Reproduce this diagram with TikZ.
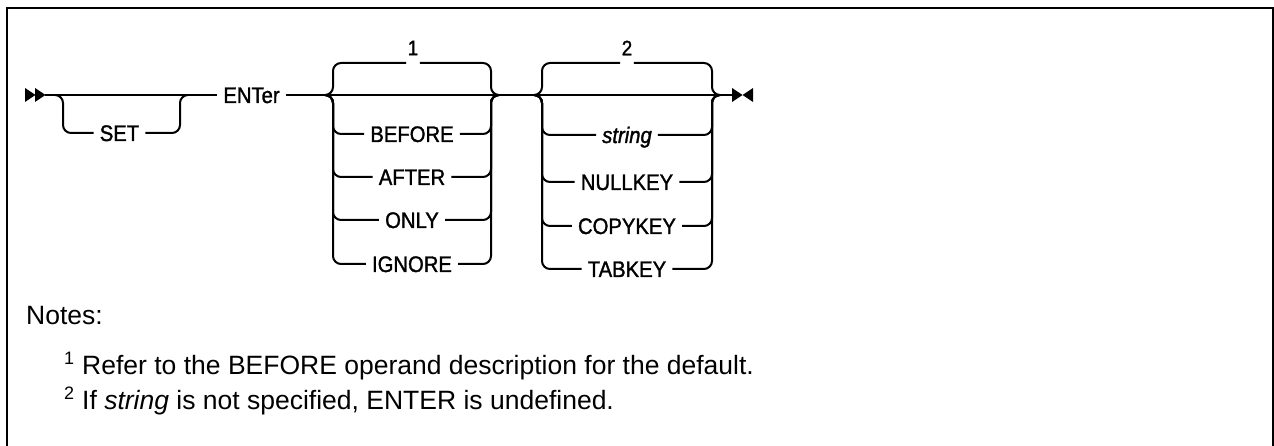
\documentclass[tikz,border=0pt]{standalone}
\usepackage{fontspec}
\setmainfont{Liberation Sans}
\newfontfamily\labfont[FakeStretch=0.9,FakeBold=1.4]{Liberation Sans}
\tikzset{
  rail/.style={line width=2pt, rounded corners=8pt},
  lab/.style={font=\labfont\fontsize{22.5}{26}\selectfont, inner xsep=6pt, inner ysep=0pt, text height=16pt, text depth=0pt},
  num/.style={font=\labfont\fontsize{21}{24}\selectfont, inner sep=1.5pt},
  notetext/.style={font=\fontsize{26.5}{30}\selectfont, inner sep=0pt, anchor=base west},
  suptext/.style={font=\fontsize{18}{20}\selectfont, inner sep=0pt, anchor=base west},
  frame/.style={line width=2.5pt}
}
\begin{document}
\begin{tikzpicture}[x=1pt,y=-1pt]
\useasboundingbox (0,0) rectangle (1274,446);
% frame
\draw[frame] (7,446) -- (7,8) -- (1273,8) -- (1273,446);

% start arrow
\fill (25,88) -- (35.5,95) -- (25,102) -- cycle;
\fill (35,88) -- (45.5,95) -- (35,102) -- cycle;

\coordinate (top) at (0,63);
\coordinate (start) at (45,95);
\coordinate (sL) at (55,95);
\coordinate (sR) at (188,95);
\coordinate (g1L) at (325,95);
\coordinate (g1R) at (499,95);
\coordinate (g2L) at (534,95);
\coordinate (g2R) at (720,95);
\coordinate (endc) at (732,95);

% SET / ENTer
\node[lab] (set) at (119.5,133) {SET};
\node[lab] (enter) at (251.5,95) {ENTer};
\draw[rail] (start) -- (enter.west);
\draw[rail] (sL) -- (63,95) -- (63,133) -- (set.west);
\draw[rail] (set.east) -- (180,133) -- (180,95) -- (sR);

% main line through groups
\draw[rail] (enter.east) -- (g1L) -- (g1R) -- (g2L) -- (g2R) -- (endc);

% group 1
\node[num] (n1) at (413,48) {1};
\draw[rail] (g1L) -- (333,95) -- (333,63) -- (n1.west |- top);
\draw[rail] (n1.east |- top) -- (491,63) -- (491,95) -- (g1R);
\node[lab] (before) at (412,134) {BEFORE};
\node[lab] (after) at (412,177) {AFTER};
\node[lab] (only) at (412,220) {ONLY};
\node[lab] (ignore) at (412,264) {IGNORE};
\foreach \n/\y in {before/134,after/177,only/220,ignore/264}{
  \draw[rail] (g1L) -- (333,95) -- (333,\y) -- (\n.west);
  \draw[rail] (\n.east) -- (491,\y) -- (491,95) -- (g1R);
}

% group 2
\node[num] (n2) at (627,48) {2};
\draw[rail] (g2L) -- (542,95) -- (542,63) -- (n2.west |- top);
\draw[rail] (n2.east |- top) -- (712,63) -- (712,95) -- (g2R);
\node[lab] (str) at (627,135) {\itshape string};
\node[lab] (nullkey) at (627,182) {NULLKEY};
\node[lab] (copykey) at (627,226) {COPYKEY};
\node[lab] (tabkey) at (627,269) {TABKEY};
\foreach \n/\y in {str/135,nullkey/182,copykey/226,tabkey/269}{
  \draw[rail] (g2L) -- (542,95) -- (542,\y) -- (\n.west);
  \draw[rail] (\n.east) -- (712,\y) -- (712,95) -- (g2R);
}

% end mark
\fill (732,88) -- (742.5,95) -- (732,102) -- cycle;
\fill (753,88) -- (742.5,95) -- (753,102) -- cycle;

% notes
\node[notetext] (notes) at (26,324) {Notes:};
\node[suptext] (sup1) at (64,364) {1};
\node[notetext] (note1) at (82,374) {Refer to the BEFORE operand description for the default.};
\node[suptext] (sup2) at (64,399) {2};
\node[notetext] (note2) at (82,409) {If \textit{string} is not specified, ENTER is undefined.};
\end{tikzpicture}
\end{document}
